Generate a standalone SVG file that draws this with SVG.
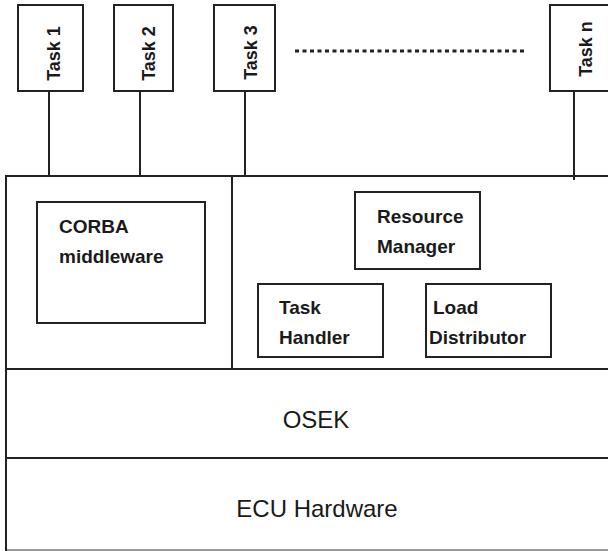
<svg xmlns="http://www.w3.org/2000/svg" width="608" height="551" viewBox="0 0 608 551">
<style>
.box{fill:#fff;stroke:#222;stroke-width:2}
.ln{stroke:#222;stroke-width:2;fill:none}
.b{font-family:"Liberation Sans",Arial,sans-serif;font-weight:bold;font-size:19px;fill:#1a1a1a}
.r{font-family:"Liberation Sans",Arial,sans-serif;font-size:24px;fill:#1a1a1a;text-anchor:middle}
.t{font-family:"Liberation Sans",Arial,sans-serif;font-weight:bold;font-size:18px;fill:#1a1a1a;text-anchor:middle}
</style>
<rect width="608" height="551" fill="#fff"/>
<g id="connectors">
<line class="ln" x1="49" y1="91" x2="49" y2="176"/>
<line class="ln" x1="140" y1="91" x2="140" y2="176"/>
<line class="ln" x1="245" y1="91" x2="245" y2="176"/>
<line class="ln" x1="574" y1="91" x2="574" y2="180"/>
<line x1="295" y1="51" x2="527" y2="51" stroke="#222" stroke-width="3" stroke-dasharray="4 3.5"/>
</g>
<g id="platform">
<line class="ln" x1="6" y1="176" x2="608" y2="176"/>
<line class="ln" x1="6" y1="369" x2="608" y2="369"/>
<line class="ln" x1="6" y1="458" x2="608" y2="458"/>
<line x1="6" y1="550" x2="608" y2="550" stroke="#999" stroke-width="2"/>
<line class="ln" x1="6" y1="175" x2="6" y2="551"/>
<line class="ln" x1="232" y1="176" x2="232" y2="369"/>
</g>
<g id="task1">
<rect class="box" x="18" y="5" width="65" height="86"/>
<text class="t" transform="translate(60,53.5) rotate(-90)">Task 1</text>
</g>
<g id="task2">
<rect class="box" x="114" y="5" width="59" height="86"/>
<text class="t" transform="translate(155,53.5) rotate(-90)">Task 2</text>
</g>
<g id="task3">
<rect class="box" x="214" y="5" width="61" height="86"/>
<text class="t" transform="translate(256.5,52.5) rotate(-90)">Task 3</text>
</g>
<g id="taskn">
<rect class="box" x="550" y="5" width="70" height="86"/>
<text class="t" transform="translate(591.5,49) rotate(-90)">Task n</text>
</g>
<g id="corba">
<rect class="box" x="37" y="202" width="168" height="121"/>
<text class="b" x="59" y="233">CORBA</text>
<text class="b" x="59" y="263">middleware</text>
</g>
<g id="resource-manager">
<rect class="box" x="355" y="192" width="125" height="77"/>
<text class="b" x="377" y="223">Resource</text>
<text class="b" x="377" y="253">Manager</text>
</g>
<g id="task-handler">
<rect class="box" x="258" y="284" width="125" height="73"/>
<text class="b" x="279" y="314">Task</text>
<text class="b" x="279" y="344">Handler</text>
</g>
<g id="load-distributor">
<rect class="box" x="426" y="284" width="125" height="73"/>
<text class="b" x="433" y="314">Load</text>
<text class="b" x="429" y="344">Distributor</text>
</g>
<g id="osek">
<text class="r" x="316" y="428">OSEK</text>
</g>
<g id="ecu">
<text class="r" x="317" y="517">ECU Hardware</text>
</g>
</svg>
